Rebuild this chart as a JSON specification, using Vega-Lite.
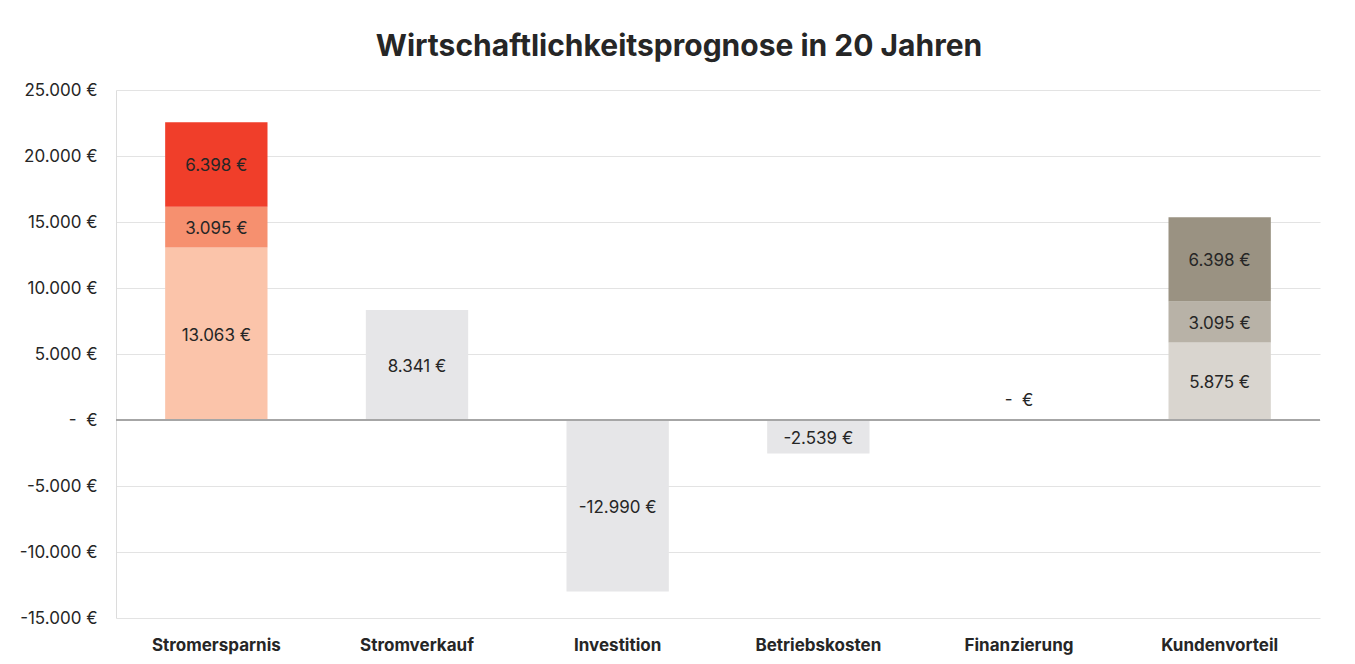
{
  "$schema": "https://vega.github.io/schema/vega-lite/v6.json",
  "width": 1204,
  "height": 528,
  "autosize": {"type": "none"},
  "padding": {"left": 116, "top": 90, "right": 35, "bottom": 46},
  "background": "white",
  "title": {
    "text": "Wirtschaftlichkeitsprognose in 20 Jahren",
    "font": "Inter",
    "fontSize": 30,
    "fontWeight": "bold",
    "color": "#262626",
    "anchor": "middle",
    "dx": -39,
    "offset": 19
  },
  "data": {
    "values": [
      {"kategorie": "Stromersparnis", "serie": "S1", "value": 13063},
      {"kategorie": "Stromersparnis", "serie": "S2", "value": 3095},
      {"kategorie": "Stromersparnis", "serie": "S3", "value": 6398},
      {"kategorie": "Stromverkauf", "serie": "G", "value": 8341},
      {"kategorie": "Investition", "serie": "G", "value": -12990},
      {"kategorie": "Betriebskosten", "serie": "G", "value": -2539},
      {"kategorie": "Finanzierung", "serie": "G", "value": 0},
      {"kategorie": "Kundenvorteil", "serie": "K1", "value": 5875},
      {"kategorie": "Kundenvorteil", "serie": "K2", "value": 3095},
      {"kategorie": "Kundenvorteil", "serie": "K3", "value": 6398}
    ]
  },
  "transform": [
    {"stack": "value", "groupby": ["kategorie"], "sort": [{"field": "serie", "order": "ascending"}], "as": ["v0", "v1"]},
    {"calculate": "(datum.v0 + datum.v1) / 2", "as": "mid"},
    {"calculate": "datum.value == 0 ? '-\u00a0\u00a0€' : format(datum.value, ',.0f') + ' €'", "as": "label"}
  ],
  "layer": [
    {
      "mark": {"type": "bar"},
      "encoding": {
        "x": {
          "field": "kategorie",
          "type": "nominal",
          "sort": ["Stromersparnis", "Stromverkauf", "Investition", "Betriebskosten", "Finanzierung", "Kundenvorteil"],
          "scale": {"paddingInner": 0.49, "paddingOuter": 0.245},
          "axis": {
            "title": null,
            "labelAngle": 0,
            "domain": false,
            "ticks": false,
            "labelFont": "Inter",
            "labelFontSize": 17,
            "labelFontWeight": "bold",
            "labelColor": "#262626",
            "labelPadding": 19
          }
        },
        "y": {
          "field": "v0",
          "type": "quantitative",
          "scale": {"domain": [-15000, 25000], "nice": false},
          "axis": {
            "title": null,
            "values": [-15000, -10000, -5000, 0, 5000, 10000, 15000, 20000, 25000],
            "labelExpr": "datum.value == 0 ? '-\u00a0\u00a0€' : format(datum.value, ',.0f') + ' €'",
            "labelFont": "Inter",
            "labelFontSize": 17,
            "labelColor": "#262626",
            "labelPadding": 19,
            "ticks": false,
            "domain": true,
            "domainColor": "#DCDCDC",
            "domainWidth": 1,
            "grid": true,
            "gridColor": "#E3E3E3",
            "gridWidth": 1
          }
        },
        "y2": {"field": "v1"},
        "color": {
          "field": "serie",
          "type": "nominal",
          "scale": {
            "domain": ["S1", "S2", "S3", "G", "K1", "K2", "K3"],
            "range": ["#FBC4AA", "#F6906F", "#F03E2A", "#E6E6E8", "#D9D5CF", "#B8B2A7", "#9A9282"]
          },
          "legend": null
        }
      }
    },
    {
      "mark": {"type": "rule", "color": "#A6A6A6", "strokeWidth": 1.5},
      "encoding": {"y": {"datum": 0, "type": "quantitative"}}
    },
    {
      "transform": [{"filter": "datum.value != 0"}],
      "mark": {"type": "text", "font": "Inter", "fontSize": 17, "color": "#262626", "baseline": "middle", "align": "center", "dy": 2},
      "encoding": {
        "x": {"field": "kategorie", "type": "nominal", "sort": ["Stromersparnis", "Stromverkauf", "Investition", "Betriebskosten", "Finanzierung", "Kundenvorteil"]},
        "y": {"field": "mid", "type": "quantitative"},
        "text": {"field": "label"}
      }
    },
    {
      "transform": [{"filter": "datum.value == 0"}],
      "mark": {"type": "text", "font": "Inter", "fontSize": 17, "color": "#262626", "baseline": "middle", "align": "center", "dy": -19},
      "encoding": {
        "x": {"field": "kategorie", "type": "nominal", "sort": ["Stromersparnis", "Stromverkauf", "Investition", "Betriebskosten", "Finanzierung", "Kundenvorteil"]},
        "y": {"field": "mid", "type": "quantitative"},
        "text": {"field": "label"}
      }
    }
  ],
  "config": {
    "locale": {
      "number": {"decimal": ",", "thousands": ".", "grouping": [3], "currency": ["", " €"], "minus": "-"}
    },
    "view": {"stroke": null}
  }
}
